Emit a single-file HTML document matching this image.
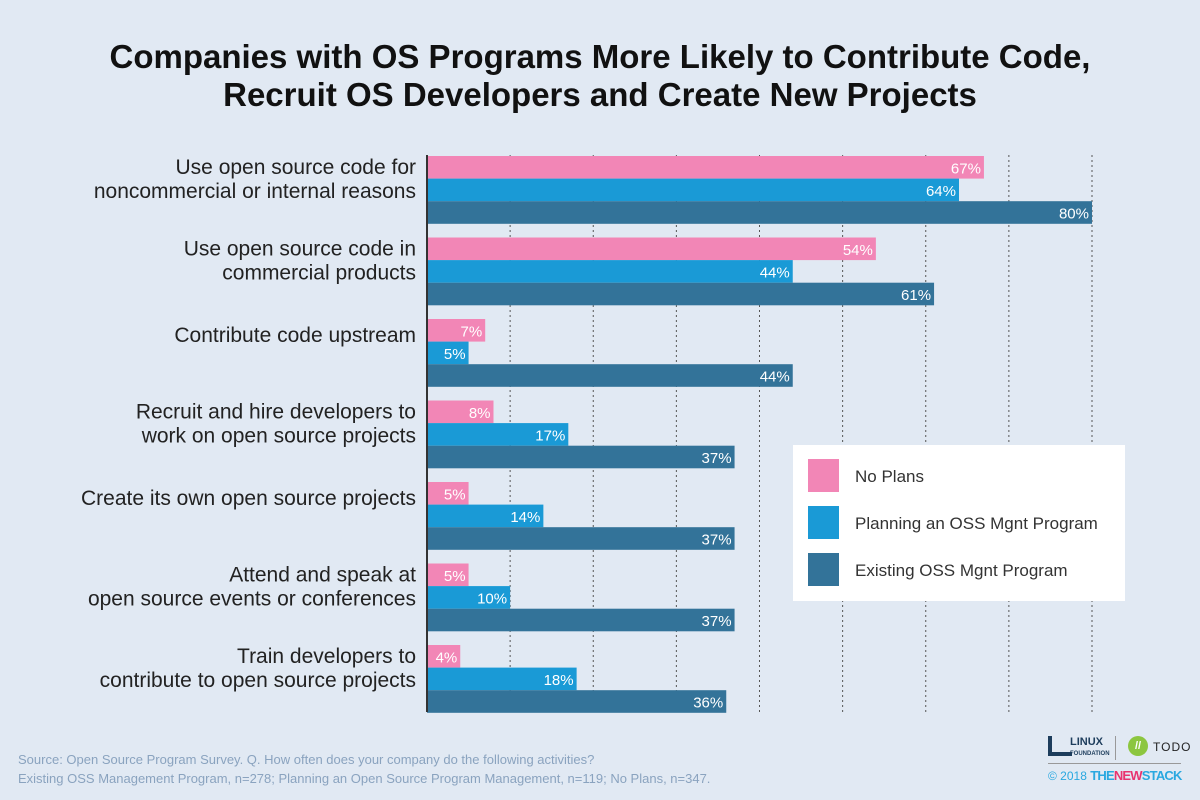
<!DOCTYPE html>
<html><head><meta charset="utf-8"><style>
body{margin:0;width:1200px;height:800px;background:#e1e9f3;font-family:"Liberation Sans",sans-serif;position:relative;overflow:hidden}
#title{position:absolute;top:38px;left:0;width:1200px;text-align:center;font-family:"Liberation Sans",sans-serif;font-weight:bold;font-size:33px;line-height:38px;color:#111}
.src{position:absolute;left:18px;font-size:13px;color:#8aa3bf}
</style></head><body>
<div id="title">Companies with OS Programs More Likely to Contribute Code,<br>Recruit OS Developers and Create New Projects</div>
<svg id="chart" width="1200" height="800" style="position:absolute;left:0;top:0"></svg>
<div class="src" style="top:752px">Source: Open Source Program Survey. Q. How often does your company do the following activities?</div>
<div class="src" style="top:771px">Existing OSS Management Program, n=278; Planning an Open Source Program Management, n=119; No Plans, n=347.</div>
<div style="position:absolute;left:1048px;top:736px;width:24px;height:20px;border:4px solid #1d3d5c;border-top:none;border-right:none;box-sizing:border-box"></div>
<div style="position:absolute;left:1070px;top:737px;font-size:11px;font-weight:bold;color:#1d3d5c;line-height:10px">LINUX<br><span style="font-size:6px">FOUNDATION</span></div>
<div style="position:absolute;left:1115px;top:736px;width:1px;height:24px;background:#999"></div>
<div style="position:absolute;left:1128px;top:736px;width:20px;height:20px;border-radius:50%;background:#8cc63f;color:#fff;font-size:11px;text-align:center;line-height:20px;font-weight:bold">//</div>
<div style="position:absolute;left:1153px;top:740px;font-size:12px;color:#222;letter-spacing:1px">TODO</div>
<div style="position:absolute;left:1048px;top:763px;width:133px;height:1px;background:#999"></div>
<div style="position:absolute;left:1048px;top:768px;font-size:12px;color:#29a8e0">© 2018 <b style="font-size:13px;letter-spacing:-0.8px">THE<span style="color:#e8336f">NEW</span>STACK</b></div>
<script>
const categories=[["Use open source code for","noncommercial or internal reasons"],["Use open source code in","commercial products"],["Contribute code upstream"],["Recruit and hire developers to","work on open source projects"],["Create its own open source projects"],["Attend and speak at","open source events or conferences"],["Train developers to","contribute to open source projects"]];
const noPlans=[67,54,7,8,5,5,4];
const planning=[64,44,5,17,14,10,18];
const existing=[80,61,44,37,37,37,36];
const seriesNames=["No Plans","Planning an OSS Mgnt Program","Existing OSS Mgnt Program"];
const gridTicks=[10,20,30,40,50,60,70,80];
const colors=["#f286b6","#1a9ad6","#337399"];
const NS="http://www.w3.org/2000/svg";
const svg=document.getElementById('chart');
const x0=427,pxPer=(1092-427)/80;
const xs=v=>x0+v*pxPer;
const gTop=156,gStep=81.5,bh=22.6;
function mk(t,a){const e=document.createElementNS(NS,t);for(const k in a)e.setAttribute(k,a[k]);svg.appendChild(e);return e;}
gridTicks.forEach(t=>{const l=mk('line',{x1:xs(t),x2:xs(t),y1:155,y2:712,stroke:'#555','stroke-dasharray':'2,3','stroke-width':1});

});
const series=[noPlans,planning,existing];
categories.forEach((c,i)=>{
 const y=gTop+i*gStep;
 series.forEach((s,j)=>{
  const r=mk('rect',{x:x0,y:y+j*bh,width:xs(s[i])-x0,height:bh,fill:colors[j]});
  
  
  const t=mk('text',{x:xs(s[i])-3,y:y+j*bh+bh/2+6,'text-anchor':'end','font-size':15,fill:'#fff'});
  t.textContent=s[i]+'%';
  
  
 });
 const n=c.length;
 c.forEach((ln,k)=>{
  const cy=n===1?y+16:y+11+k*24;
  const t=mk('text',{x:416,y:cy+7,'text-anchor':'end','font-size':21,fill:'#222'});
  t.textContent=ln;
  
  
 });
});
const ax=mk('line',{x1:x0,x2:x0,y1:155,y2:712,stroke:'#333','stroke-width':2});


const lg=mk('rect',{x:793,y:445,width:332,height:156,fill:'#fff'});


seriesNames.forEach((n,j)=>{
 const r=mk('rect',{x:808,y:459+j*47,width:31,height:33,fill:colors[j]});
 
 
 const t=mk('text',{x:855,y:482+j*47,'font-size':17,fill:'#333'});
 t.textContent=n;
 
 
});
</script>
</body></html>
